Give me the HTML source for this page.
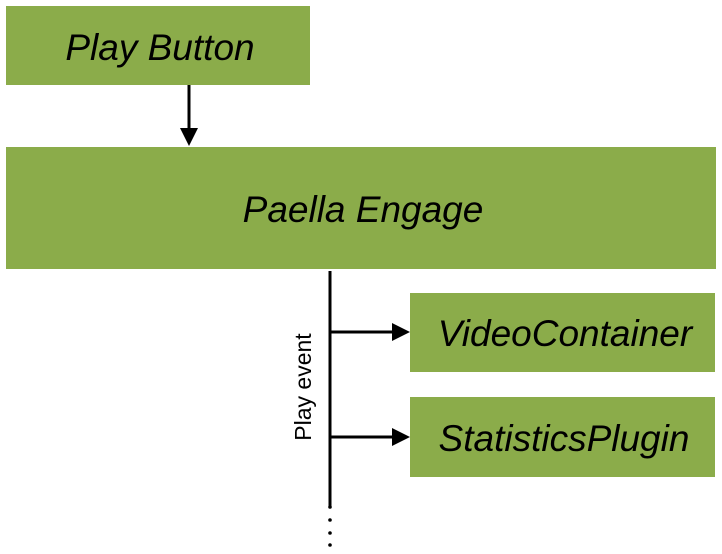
<!DOCTYPE html>
<html><head><style>
body{margin:0;background:#fff;width:722px;height:554px;overflow:hidden}
svg{display:block}
text{font-family:"Liberation Sans",Arial,sans-serif;font-style:italic;fill:#000}
</style></head><body>
<svg width="722" height="554" viewBox="0 0 722 554">
<rect x="6" y="6" width="304" height="79" fill="#8bac4a"/>
<text x="160" y="60" font-size="37" text-anchor="middle">Play Button</text>
<line x1="189" y1="85" x2="189" y2="130" stroke="#000" stroke-width="3"/>
<polygon points="180,128 198,128 189,146" fill="#000"/>
<rect x="6" y="147" width="710" height="122" fill="#8bac4a"/>
<text x="363" y="222" font-size="37" text-anchor="middle">Paella Engage</text>
<line x1="330" y1="271" x2="330" y2="507" stroke="#000" stroke-width="3"/>
<circle cx="330" cy="507" r="1.8" fill="#000"/>
<circle cx="330" cy="520" r="1.8" fill="#000"/>
<circle cx="330" cy="533" r="1.8" fill="#000"/>
<circle cx="330" cy="545" r="1.8" fill="#000"/>
<line x1="330" y1="332" x2="395" y2="332" stroke="#000" stroke-width="3"/>
<polygon points="392,323 410,332 392,341" fill="#000"/>
<line x1="330" y1="437" x2="395" y2="437" stroke="#000" stroke-width="3"/>
<polygon points="392,428 410,437 392,446" fill="#000"/>
<text transform="translate(311,387) rotate(-90)" font-size="23" text-anchor="middle" style="font-style:normal">Play event</text>
<rect x="410" y="293" width="305" height="79" fill="#8bac4a"/>
<text x="565" y="346" font-size="37" text-anchor="middle">VideoContainer</text>
<rect x="410" y="397" width="305" height="80" fill="#8bac4a"/>
<text x="564" y="451" font-size="37" text-anchor="middle">StatisticsPlugin</text>
</svg>
</body></html>
